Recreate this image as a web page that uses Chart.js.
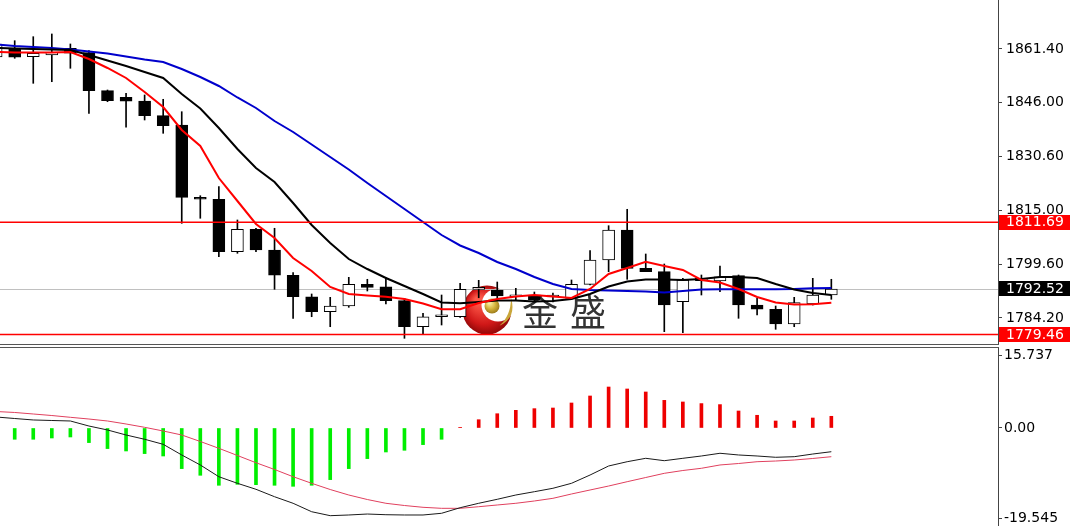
<!DOCTYPE html>
<html>
<head>
<meta charset="utf-8">
<script src="https://cdn.jsdelivr.net/npm/chart.js@4"></script>
<style>
  body { margin: 0; background: #fff; }
  #wrap { position: relative; width: 1070px; height: 526px; overflow: hidden; background: #fff; }
  #price { position: absolute; left: 0; top: 0; }
  #macd { position: absolute; left: 0; top: 348px; }
  .sep { position: absolute; left: 0; width: 999px; height: 1px; background: #555; }
</style>
</head>
<body>
<div id="wrap">
  <canvas id="price" width="1070" height="345"></canvas>
  <div class="sep" style="top:344px"></div>
  <div class="sep" style="top:347px"></div>
  <canvas id="macd" width="1070" height="178"></canvas>
</div>
<script>
//~~~~~~~~~~~~~~~~~~~~~~~~~~~~~~~~~~~~~~~~~~~~~~~~~~~~~~~~~~~~~~~~~~~~~~~~~
// DATA (first bar is the cut-off one at the left edge)
const opens = [1859.10, 1861.60, 1859.19, 1859.68, 1861.60, 1860.34, 1849.43, 1847.54, 1846.47, 1842.26,
  1839.59, 1818.83, 1818.26, 1803.22, 1809.65, 1803.71, 1796.45, 1790.30, 1786.00, 1787.63,
  1793.86, 1793.17, 1789.16, 1781.69, 1784.56, 1784.56, 1792.40, 1792.23, 1790.30, 1790.79,
  1790.22, 1789.84, 1793.86, 1800.84, 1809.45, 1798.45, 1797.48, 1788.87, 1794.89, 1794.81,
  1796.33, 1787.92, 1786.69, 1782.47, 1788.21, 1790.79];
const highs = [1863.41, 1863.78, 1864.93, 1865.71, 1862.84, 1860.91, 1849.63, 1848.68, 1848.20, 1846.96,
  1843.40, 1819.29, 1821.88, 1812.32, 1809.94, 1809.94, 1797.19, 1791.08, 1790.13, 1795.87,
  1795.30, 1795.87, 1789.84, 1785.54, 1790.79, 1794.15, 1795.00, 1794.52, 1792.71, 1791.65,
  1791.36, 1795.10, 1803.51, 1810.68, 1815.39, 1802.56, 1799.69, 1795.58, 1796.53, 1799.11,
  1796.53, 1789.84, 1787.63, 1790.13, 1795.58, 1795.30];
const lows = [1858.82, 1858.73, 1851.55, 1852.01, 1855.86, 1842.94, 1846.27, 1838.93, 1841.02, 1837.20,
  1811.37, 1812.81, 1801.78, 1802.76, 1803.22, 1792.43, 1784.10, 1784.56, 1781.69, 1787.26,
  1791.94, 1788.21, 1778.36, 1779.60, 1782.18, 1784.39, 1790.00, 1789.36, 1789.16, 1788.78,
  1788.78, 1789.56, 1793.66, 1797.48, 1795.30, 1797.48, 1780.26, 1779.97, 1790.79, 1791.74,
  1784.10, 1785.05, 1780.95, 1781.69, 1787.92, 1789.56];
const closes = [1862.84, 1859.02, 1860.17, 1860.45, 1860.17, 1849.43, 1846.56, 1846.39, 1842.26, 1839.38,
  1818.83, 1818.26, 1803.22, 1809.65, 1803.71, 1796.45, 1790.30, 1786.00, 1787.63, 1793.86,
  1793.00, 1789.16, 1781.69, 1784.56, 1784.76, 1792.43, 1793.00, 1790.51, 1790.51, 1789.36,
  1790.36, 1793.86, 1800.84, 1809.45, 1798.45, 1797.48, 1787.92, 1795.10, 1795.58, 1796.04,
  1787.92, 1786.69, 1782.47, 1788.58, 1790.79, 1792.52];

const maRed = [1860.54, 1860.39, 1860.39, 1860.39, 1860.54, 1858.53, 1855.95, 1853.08, 1849.06, 1844.75,
  1838.15, 1833.56, 1824.37, 1817.77, 1811.17, 1807.15, 1801.41, 1797.68, 1793.09, 1791.08,
  1790.65, 1790.30, 1789.64, 1788.35, 1786.69, 1786.69, 1788.49, 1789.64, 1790.36, 1790.79,
  1790.36, 1789.93, 1792.51, 1796.82, 1798.54, 1800.35, 1799.11, 1797.97, 1795.10, 1794.38,
  1792.51, 1790.22, 1788.64, 1788.06, 1788.12, 1788.58];
const maBlack = [1861.69, 1861.54, 1861.40, 1861.26, 1861.11, 1859.68, 1858.10, 1856.52, 1854.80, 1853.08,
  1848.48, 1844.32, 1838.72, 1832.70, 1827.24, 1823.23, 1817.20, 1810.88, 1805.72, 1801.12,
  1798.25, 1795.67, 1793.37, 1791.08, 1788.64, 1788.41, 1788.78, 1789.21, 1789.21, 1788.92,
  1789.07, 1789.64, 1791.08, 1793.23, 1794.67, 1795.24, 1795.24, 1795.10, 1795.38, 1795.96,
  1795.96, 1795.67, 1793.95, 1792.37, 1791.36, 1790.79];
const maBlue = [1862.69, 1862.26, 1861.97, 1861.69, 1861.26, 1860.68, 1860.11, 1859.25, 1858.39, 1857.67,
  1855.66, 1853.36, 1850.78, 1847.48, 1844.47, 1840.73, 1837.58, 1833.99, 1830.40, 1826.81,
  1822.94, 1819.21, 1815.48, 1811.74, 1808.01, 1805.00, 1802.85, 1800.26, 1798.25, 1795.96,
  1793.95, 1792.51, 1792.23, 1792.08, 1791.94, 1791.80, 1791.51, 1791.94, 1792.37, 1792.43,
  1792.43, 1792.43, 1792.43, 1792.51, 1792.71, 1792.80];

const macdHist = [null, -2.45, -2.45, -2.17, -1.95, -3.17, -4.47, -4.99, -5.56, -6.08,
  -8.82, -10.27, -12.44, -12.23, -12.30, -12.44, -12.66, -12.44, -11.21, -8.82,
  -6.65, -5.21, -4.84, -3.61, -2.45, 0.15, 1.80, 3.10, 3.84, 4.20,
  4.34, 5.43, 6.95, 8.90, 8.47, 7.82, 6.00, 5.65, 5.30, 5.08,
  3.69, 2.76, 1.52, 1.52, 2.17, 2.54];
const macdLine = [2.39, 2.06, 1.74, 1.63, 1.52, 0.43, -0.43, -1.52, -2.45, -3.54,
  -5.86, -8.03, -10.58, -12.01, -13.31, -14.92, -16.35, -18.18, -19.04, -18.89,
  -18.68, -18.83, -18.89, -18.89, -18.52, -17.31, -16.35, -15.48, -14.55, -13.83,
  -13.09, -12.01, -10.21, -8.25, -7.32, -6.58, -7.10, -6.58, -6.08, -5.49,
  -5.86, -6.08, -6.36, -6.23, -5.65, -5.15];
const signalLine = [3.58, 3.37, 3.04, 2.71, 2.32, 1.95, 1.52, 0.87, 0.15, -0.65,
  -1.52, -2.93, -4.41, -5.97, -7.54, -9.01, -10.58, -12.01, -13.36, -14.55,
  -15.53, -16.35, -16.83, -17.22, -17.44, -17.44, -17.09, -16.72, -16.35, -15.85,
  -15.27, -14.33, -13.46, -12.60, -11.66, -10.75, -9.84, -9.23, -8.75, -8.03,
  -7.71, -7.32, -7.17, -6.95, -6.62, -6.23];

const priceTicks = [1861.40, 1846.00, 1830.60, 1815.00, 1799.60, 1784.20];
const macdTicks = [15.737, 0, -19.545];
const macdTickLabels = ["15.737", "0.00", "-19.545"];
const levels = [1811.69, 1779.46];
const lastPrice = 1792.52;
//~~~~~~~~~~~~~~~~~~~~~~~~~~~~~~~~~~~~~~~~~~~~~~~~~~~~~~~~~~~~~~~~~~~~~~~~~

const xs = opens.map((_, k) => k - 1);
const X_MIN = -0.792, X_MAX = 52.98;
const AXIS_W = 72;
const font = { family: "DejaVu Sans", size: 14 };

const pts = (arr) => xs.map((x, k) => ({ x, y: arr[k] }));

// watermark logo + text
const drawLogo = (ctx) => {
  ctx.save();
  let g = ctx.createRadialGradient(478, 300, 3, 487, 310, 26);
  g.addColorStop(0, "#ff5a4a");
  g.addColorStop(0.65, "#d01818");
  g.addColorStop(1, "#8a0606");
  ctx.fillStyle = g;
  ctx.beginPath();
  ctx.arc(487, 310, 24.5, 0, Math.PI * 2);
  ctx.fill();
  ctx.fillStyle = "#fff";
  ctx.beginPath();
  ctx.arc(498, 305, 16.5, 0, Math.PI * 2);
  ctx.fill();
  g = ctx.createRadialGradient(489, 302, 1, 492, 306, 9);
  g.addColorStop(0, "#fff4a8");
  g.addColorStop(0.5, "#d4b23a");
  g.addColorStop(1, "#8a6a12");
  ctx.fillStyle = g;
  ctx.beginPath();
  ctx.arc(492, 306, 7.5, 0, Math.PI * 2);
  ctx.fill();
  ctx.fillStyle = "#c9a63a";
  ctx.beginPath();
  ctx.moveTo(499, 326);
  ctx.quadraticCurveTo(517, 318, 511, 298);
  ctx.quadraticCurveTo(511, 316, 499, 326);
  ctx.fill();
  ctx.fillStyle = "#333";
  ctx.font = '36px "Noto Sans CJK SC"';
  ctx.textBaseline = "middle";
  ctx.fillText("金", 522, 312);
  ctx.fillText("盛", 570, 312);
  ctx.restore();
};

const pricePlugin = {
  id: "priceExtras",
  beforeDatasetsDraw(chart) {
    const { ctx, chartArea, scales } = chart;
    drawLogo(ctx);
    const y = Math.round(scales.y.getPixelForValue(lastPrice)) + 0.5;
    ctx.save();
    ctx.strokeStyle = "#c0c0c0";
    ctx.lineWidth = 1;
    ctx.beginPath();
    ctx.moveTo(chartArea.left, y);
    ctx.lineTo(chartArea.right, y);
    ctx.stroke();
    ctx.restore();
  },
  afterDatasetsDraw(chart) {
    const { ctx, chartArea, scales } = chart;
    ctx.save();
    ctx.strokeStyle = "#ff0000";
    ctx.lineWidth = 1.5;
    levels.forEach((v) => {
      const y = scales.y.getPixelForValue(v);
      ctx.beginPath();
      ctx.moveTo(chartArea.left, y);
      ctx.lineTo(chartArea.right, y);
      ctx.stroke();
    });
    ctx.restore();
  },
  afterDraw(chart) {
    const { ctx, chartArea, scales } = chart;
    const tags = [[levels[0], "#ff0000"], [lastPrice, "#000000"], [levels[1], "#ff0000"]];
    ctx.save();
    ctx.font = "14px 'DejaVu Sans'";
    ctx.textBaseline = "middle";
    tags.forEach(([v, c]) => {
      const y = scales.y.getPixelForValue(v);
      ctx.fillStyle = c;
      ctx.fillRect(chartArea.right + 1, Math.round(y - 7.5), 1070 - chartArea.right, 15);
      ctx.fillStyle = "#fff";
      ctx.fillText(v.toFixed(2), chartArea.right + 8, y + 0.5);
    });
    ctx.restore();
  },
};

const xScale = { type: "linear", display: false, offset: false, bounds: "ticks", min: X_MIN, max: X_MAX, grid: { offset: false } };

let priceChart = new Chart(document.getElementById("price"), {
  type: "bar",
  data: {
    datasets: [
      { type: "line", data: pts(maRed), borderColor: "#ff0000", borderWidth: 2, pointRadius: 0, order: 0 },
      { type: "line", data: pts(maBlack), borderColor: "#000000", borderWidth: 2, pointRadius: 0, order: 1 },
      { type: "line", data: pts(maBlue), borderColor: "#0000cc", borderWidth: 2, pointRadius: 0, order: 2 },
      {
        data: xs.map((x, k) => ({ x, y: [opens[k], closes[k]] })),
        backgroundColor: xs.map((_, k) => (closes[k] >= opens[k] ? "#ffffff" : "#000000")),
        borderColor: "#000000",
        borderWidth: 1,
        borderSkipped: false,
        barThickness: 12,
        minBarLength: 2,
        grouped: false,
        order: 3,
      },
      {
        data: xs.map((x, k) => ({ x, y: [lows[k], highs[k]] })),
        backgroundColor: "#000000",
        borderWidth: 0,
        barThickness: 1,
        grouped: false,
        order: 4,
      },
    ],
  },
  options: {
    responsive: false,
    animation: false,
    devicePixelRatio: 1,
    layout: { padding: 0 },
    plugins: { legend: { display: false }, tooltip: { enabled: false } },
    scales: {
      x: xScale,
      y: {
        position: "right",
        min: 1776.44,
        max: 1875.46,
        afterBuildTicks: (axis) => { axis.ticks = priceTicks.map((v) => ({ value: v })); },
        afterFit: (axis) => { axis.width = AXIS_W; axis.paddingTop = 0; axis.paddingBottom = 0; },
        ticks: { autoSkip: false, color: "#000", font, padding: 4, callback: (v) => Number(v).toFixed(2) },
        grid: { drawOnChartArea: false, tickLength: 4, color: "#444" },
        border: { display: true, color: "#444", width: 1 },
      },
    },
  },
  plugins: [pricePlugin],
});

//~~~~~~~~~~~~~~~~~~~~~~~~~~~~~~~~~~~~~~~~~~~~~~~~~~~~~~~~~~~~~~~~~~~~~~~~~
// MACD panel
let macdChart = new Chart(document.getElementById("macd"), {
  type: "bar",
  data: {
    datasets: [
      { type: "line", data: pts(macdLine), borderColor: "#1a1a1a", borderWidth: 1, pointRadius: 0, order: 0 },
      { type: "line", data: pts(signalLine), borderColor: "#e0405e", borderWidth: 1, pointRadius: 0, order: 1 },
      {
        data: pts(macdHist),
        backgroundColor: macdHist.map((v) => (v >= 0 ? "#ee0000" : "#00ee00")),
        barThickness: 3,
        grouped: false,
        order: 2,
      },
    ],
  },
  options: {
    responsive: false,
    animation: false,
    devicePixelRatio: 1,
    layout: { padding: 0 },
    plugins: { legend: { display: false }, tooltip: { enabled: false } },
    scales: {
      x: xScale,
      y: {
        position: "right",
        min: -21.28,
        max: 17.37,
        afterBuildTicks: (axis) => { axis.ticks = macdTicks.map((v) => ({ value: v })); },
        afterFit: (axis) => { axis.width = AXIS_W; axis.paddingTop = 0; axis.paddingBottom = 0; },
        ticks: {
          autoSkip: false, color: "#000", font, padding: 2,
          callback: (v, i) => macdTickLabels[i],
        },
        grid: { drawOnChartArea: false, tickLength: 4, color: "#444" },
        border: { display: true, color: "#444", width: 1 },
      },
    },
  },
});
</script>
</body>
</html>
